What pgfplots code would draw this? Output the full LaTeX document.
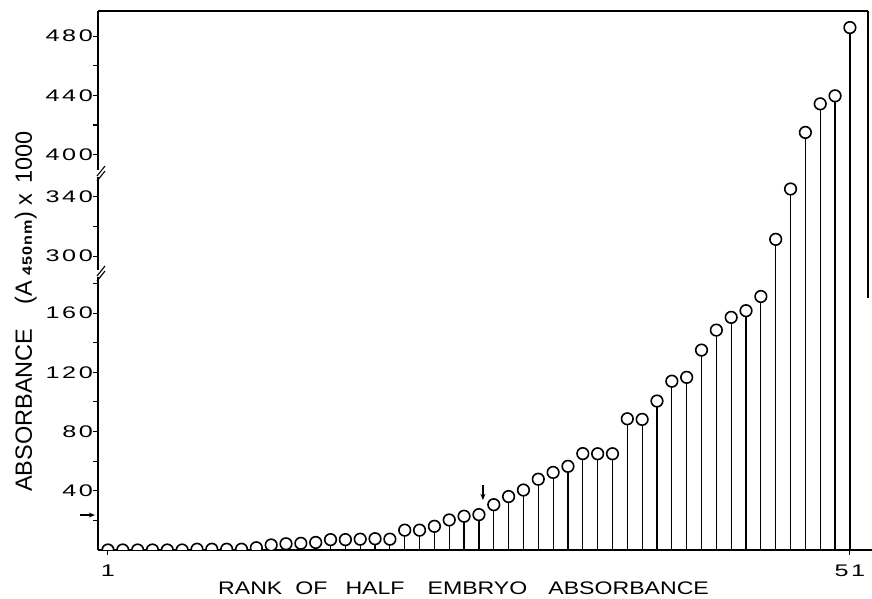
\documentclass[border=0pt]{standalone}
\usepackage{fontspec}
\setmainfont{Liberation Sans}
\newfontfamily\tickfont[FakeStretch=1.5,LetterSpace=15]{Liberation Sans}
\newfontfamily\xlabfont[FakeStretch=1.27]{Liberation Sans}
\newfontfamily\subfont[FakeStretch=1.2,LetterSpace=6]{Liberation Sans Bold}
\usepackage{pgfplots}
\usepackage{pgfplotstable}
\pgfplotsset{compat=1.18}
\usetikzlibrary{arrows.meta}

% rank and absorbance (x 1000) of each half embryo
\pgfplotstableread{
rank value
1 0
2 0
3 0
4 0
5 0
6 0
7 0.5
8 0.5
9 0.5
10 0.5
11 1.5
12 3.4
13 4.2
14 4.5
15 5.1
16 7
17 7
18 7.3
19 7.6
20 7.3
21 13.4
22 13.4
23 16
24 20.3
25 22.8
26 23.9
27 30.6
28 36.1
29 40.5
30 47.8
31 52.4
32 56.5
33 65.1
34 65.0
35 65.0
36 88.6
37 88.2
38 100.6
39 114
40 116.6
41 135
42 148.5
43 157.1
44 161.6
45 171.2
46 311.3
47 345.3
48 415
49 434.3
50 439.7
51 485.8
}\ranktable

\begin{document}
\begin{tikzpicture}
\begin{axis}[
  scale only axis, width=770bp, height=539bp,
  xmin=0.33, xmax=52.22,
  ymin=0, ymax=497,
  % broken ordinate: 0-187 | 288-355 | 388-497
  y coord trafo/.code={\pgfmathparse{(#1<250)*(#1)+(#1>=250)*(#1<370)*(#1-101.5)+(#1>=370)*(#1-133)}},
  axis x line*=bottom, axis y line*=left,
  axis line style={-, line width=1.3bp},
  xtick={1,51}, xticklabels={1,51},
  ytick={40,80,120,160,300,340,400,440,480},
  yticklabels={40,80,120,160,300,340,400,440,480},
  minor ytick={20,60,100,140,180,320,420,460},
  tick align=outside,
  major tick length=5bp, minor tick length=5bp,
  tick style={line width=1.1bp, black},
  tick label style={inner sep=0pt, font={\tickfont\fontsize{16.8bp}{18bp}\selectfont}},
  xticklabel style={yshift=-10bp},
  clip mode=individual, clip marker paths=true,
]
\addplot[ycomb, black, line width=1.2bp, mark=*, mark size=5.8bp,
  mark options={fill=white, line width=1.6bp, solid}]
  table[x=rank, y=value]{\ranktable};
\coordinate (SW) at (rel axis cs:0,0);
\coordinate (NE) at (rel axis cs:1,1);
\coordinate (NW) at (rel axis cs:0,1);
\coordinate (RE) at (rel axis cs:1,0.4675);
\coordinate (SE) at (rel axis cs:1,0);
\coordinate (B1) at (rel axis cs:0,0.6994);
\coordinate (B2) at (rel axis cs:0,0.5139);
\coordinate (L1) at (axis cs:-0.89,23.6);
\coordinate (L2) at (axis cs:0.12,23.6);
\coordinate (D1) at (axis cs:26.27,44);
\coordinate (D2) at (axis cs:26.27,33.8);
\end{axis}
% top and partial right frame
\draw[line width=1.3bp] (NW) -- (NE);
\draw[line width=1.3bp] (NE) -- (RE);
\draw[line width=1.3bp] (SE) -- ++(8bp,0);
% axis breaks
\foreach \b in {B1,B2}{
  \fill[white] ([xshift=-2bp,yshift=-4bp]\b) rectangle ([xshift=2bp,yshift=3bp]\b);
  \draw[line width=1.1bp] ([xshift=-1bp,yshift=-8bp]\b) -- ++(8bp,10bp);
  \draw[line width=1.1bp] ([xshift=-1bp,yshift=-3bp]\b) -- ++(8bp,10bp);
}
% markers on the scale
\draw[line width=1.2bp, -{Stealth[length=6bp,width=5bp]}] (L1) -- (L2);
\draw[line width=1.2bp, -{Stealth[length=6bp,width=5bp]}] (D1) -- (D2);
% axis titles
\node[anchor=base west, inner sep=0pt, font={\xlabfont\fontsize{18.2bp}{20bp}\selectfont}]
  at ([xshift=120bp,yshift=-44bp]SW)
  {RANK\hspace{13bp}OF\hspace{18bp}HALF\hspace{23bp}EMBRYO\hspace{21bp}ABSORBANCE};
\node[anchor=base west, rotate=90, inner sep=0pt, font={\fontsize{23.5bp}{25bp}\selectfont}]
  at ([xshift=-66bp,yshift=58bp]SW)
  {ABSORBANCE\hspace{24bp}(A\hspace{6bp}{\subfont\fontsize{13.5bp}{14bp}\selectfont 450nm}\hspace{1bp})\hspace{6bp}x\hspace{10bp}1000};
\pgfresetboundingbox
\path ([xshift=-98bp,yshift=-49bp]SW) rectangle ([xshift=4bp,yshift=11bp]NE);
\end{tikzpicture}
\end{document}
